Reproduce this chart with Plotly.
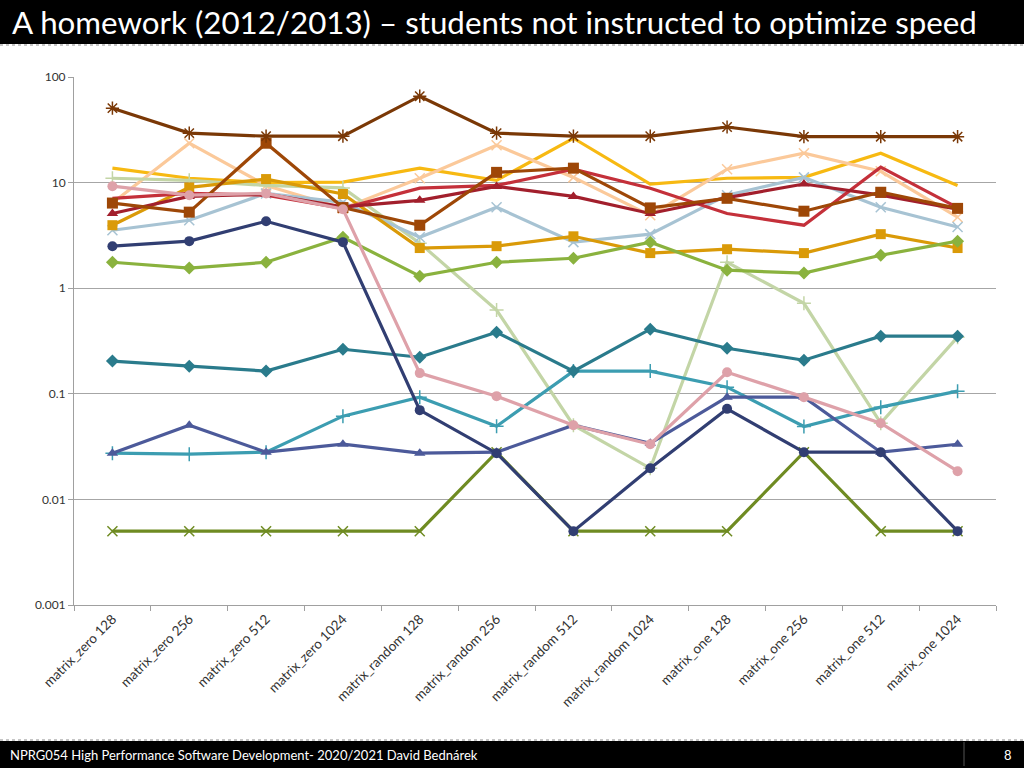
import plotly.graph_objects as go

categories = ["matrix_zero 128", "matrix_zero 256", "matrix_zero 512", "matrix_zero 1024",
              "matrix_random 128", "matrix_random 256", "matrix_random 512", "matrix_random 1024",
              "matrix_one 128", "matrix_one 256", "matrix_one 512", "matrix_one 1024"]

olive_x = [0.005, 0.005, 0.005, 0.005, 0.005, 0.028, 0.005, 0.005, 0.005, 0.028, 0.005, 0.005]
slate_tri = [0.0274, 0.0504, 0.028, 0.0333, 0.0274, 0.028, 0.0504, 0.034, 0.093, 0.093, 0.028, 0.0333]
lteal_plus = [0.0274, 0.0268, 0.028, 0.0614, 0.093, 0.0493, 0.164, 0.164, 0.1155, 0.049, 0.0747, 0.106]
teal_dia = [0.204, 0.182, 0.164, 0.264, 0.222, 0.383, 0.164, 0.409, 0.27, 0.208, 0.351, 0.351]
green_dia = [1.76, 1.55, 1.76, 3.04, 1.3, 1.76, 1.92, 2.73, 1.48, 1.39, 2.05, 2.79]
goldenrod_sq = [3.95, 9.0, 10.8, 7.8, 2.4, 2.5, 3.1, 2.15, 2.34, 2.15, 3.25, 2.4]
bluegrey_x = [3.54, 4.4, 7.9, 6.5, 3.04, 5.85, 2.73, 3.25, 7.6, 11.2, 5.85, 3.8]
sage_plus = [11.0, 10.5, 9.4, 8.9, 2.67, 0.62, 0.0504, 0.0197, 1.76, 0.72, 0.0527, 0.344]
gold_line = [13.7, 11.0, 10.0, 10.1, 13.7, 10.5, 26.3, 9.7, 11.0, 11.2, 19.0, 9.4]
peach_x = [6.4, 23.6, 9.4, 5.7, 11.0, 22.6, 11.2, 4.9, 13.4, 19.0, 12.8, 4.7]
red_line = [7.1, 7.9, 7.6, 5.7, 8.85, 9.4, 13.4, 8.85, 5.1, 3.95, 14.0, 5.8]
darkred_tri = [5.1, 7.4, 7.8, 5.9, 6.8, 9.2, 7.4, 5.1, 7.2, 9.7, 7.6, 5.6]
brown_sq = [6.4, 5.25, 23.6, 5.8, 3.95, 12.5, 13.7, 5.76, 7.1, 5.36, 8.1, 5.7]
pink_circ = [9.25, 7.6, 7.9, 5.6, 0.157, 0.095, 0.0504, 0.0333, 0.16, 0.093, 0.0527, 0.0185]
navy_circ = [2.5, 2.79, 4.3, 2.73, 0.070, 0.0274, 0.005, 0.0197, 0.072, 0.028, 0.028, 0.005]
star_brown = [50.7, 29.4, 27.5, 27.5, 65.8, 29.4, 27.5, 27.5, 33.6, 27.2, 27.2, 27.2]

series = [
    (gold_line, "#F7B912", None, 0),
    (peach_x, "#FBC99A", "x-thin-open", 10),
    (sage_plus, "#C3D5A6", "cross-thin-open", 10),
    (bluegrey_x, "#A7C3D3", "x-thin-open", 10),
    (goldenrod_sq, "#DA9A08", "square", 10),
    (green_dia, "#8AB23E", "diamond", 10),
    (red_line, "#C4303A", None, 0),
    (darkred_tri, "#A21F2C", "triangle-up", 10),
    (brown_sq, "#9E4707", "square", 11),
    (star_brown, "#7A3806", "asterisk-open", 11),
    (olive_x, "#6F8B22", "x-thin-open", 10),
    (lteal_plus, "#3C9DB1", "cross-thin-open", 10),
    (teal_dia, "#2A7B8C", "diamond", 10),
    (slate_tri, "#4C5A9A", "triangle-up", 10),
    (pink_circ, "#DEA1A9", "circle", 10),
    (navy_circ, "#313E72", "circle", 10),
]

fig = go.Figure()
for vals, color, sym, size in series:
    if sym is None:
        fig.add_trace(go.Scatter(x=categories, y=vals, mode="lines",
                                 line=dict(color=color, width=3.2)))
    else:
        open_sym = sym.endswith("open")
        fig.add_trace(go.Scatter(
            x=categories, y=vals, mode="lines+markers",
            line=dict(color=color, width=3.2),
            marker=dict(symbol=sym, size=size, color=color,
                        line=dict(color=color, width=1.5 if open_sym else 0))))

W, H = 1024, 768
L, R, T, B = 74, 996, 77, 605
pw, ph = R - L, B - T

def px(X):
    return (X - L) / pw

def py(Y):
    return (B - Y) / ph

fig.update_layout(
    width=W, height=H,
    margin=dict(l=L, r=W - R, t=T, b=H - B, pad=0),
    paper_bgcolor="white", plot_bgcolor="white",
    showlegend=False,
    font=dict(family="Lato, Open Sans, sans-serif", color="#404040"),
    xaxis=dict(
        type="category", range=[-0.5, 11.5],
        showline=True, linecolor="#A0A0A0", linewidth=1,
        ticks="outside", ticklen=5, tickcolor="#A0A0A0", tickson="boundaries",
        tickangle=-45, tickfont=dict(size=13.5, color="#333333"),
        showgrid=False, fixedrange=True,
    ),
    yaxis=dict(
        type="log", range=[-3, 2],
        tickvals=[0.001, 0.01, 0.1, 1, 10, 100],
        ticktext=["0.001", "0.01", "0.1", "1", "10", "100"],
        showline=True, linecolor="#A0A0A0", linewidth=1,
        ticks="outside", ticklen=5, tickcolor="#A0A0A0",
        showgrid=True, gridcolor="#A6A6A6", gridwidth=1,
        zeroline=False, tickfont=dict(size=12, color="#333333"),
        fixedrange=True,
    ),
    shapes=[
        dict(type="rect", xref="paper", yref="paper",
             x0=px(0), x1=px(W), y0=py(44), y1=py(0),
             fillcolor="black", line=dict(width=0), layer="above"),
        dict(type="line", xref="paper", yref="paper",
             x0=px(0), x1=px(W), y0=py(45), y1=py(45),
             line=dict(color="#8C8C8C", width=1, dash="dot")),
        dict(type="rect", xref="paper", yref="paper",
             x0=px(0), x1=px(W), y0=py(H), y1=py(741),
             fillcolor="black", line=dict(width=0), layer="above"),
        dict(type="line", xref="paper", yref="paper",
             x0=px(0), x1=px(W), y0=py(740), y1=py(740),
             line=dict(color="#8C8C8C", width=1, dash="dot")),
        dict(type="line", xref="paper", yref="paper",
             x0=px(964), x1=px(964), y0=py(766), y1=py(742),
             line=dict(color="#555555", width=1)),
    ],
    annotations=[
        dict(text="A homework (2012/2013) – students not instructed to optimize speed",
             xref="paper", yref="paper", x=px(10), y=py(22),
             xanchor="left", yanchor="middle", showarrow=False,
             font=dict(family="Lato, sans-serif", size=31.3, color="white")),
        dict(text="NPRG054 High Performance Software Development- 2020/2021 David Bednárek",
             xref="paper", yref="paper", x=px(8), y=py(755),
             xanchor="left", yanchor="middle", showarrow=False,
             font=dict(family="Lato, sans-serif", size=13, color="white")),
        dict(text="8",
             xref="paper", yref="paper", x=px(1014), y=py(755),
             xanchor="right", yanchor="middle", showarrow=False,
             font=dict(family="Lato, sans-serif", size=13, color="white")),
    ],
)

fig.write_html("out.html", config={"displayModeBar": False},
               post_script="document.body.style.margin='0';document.body.style.overflow='hidden';")
